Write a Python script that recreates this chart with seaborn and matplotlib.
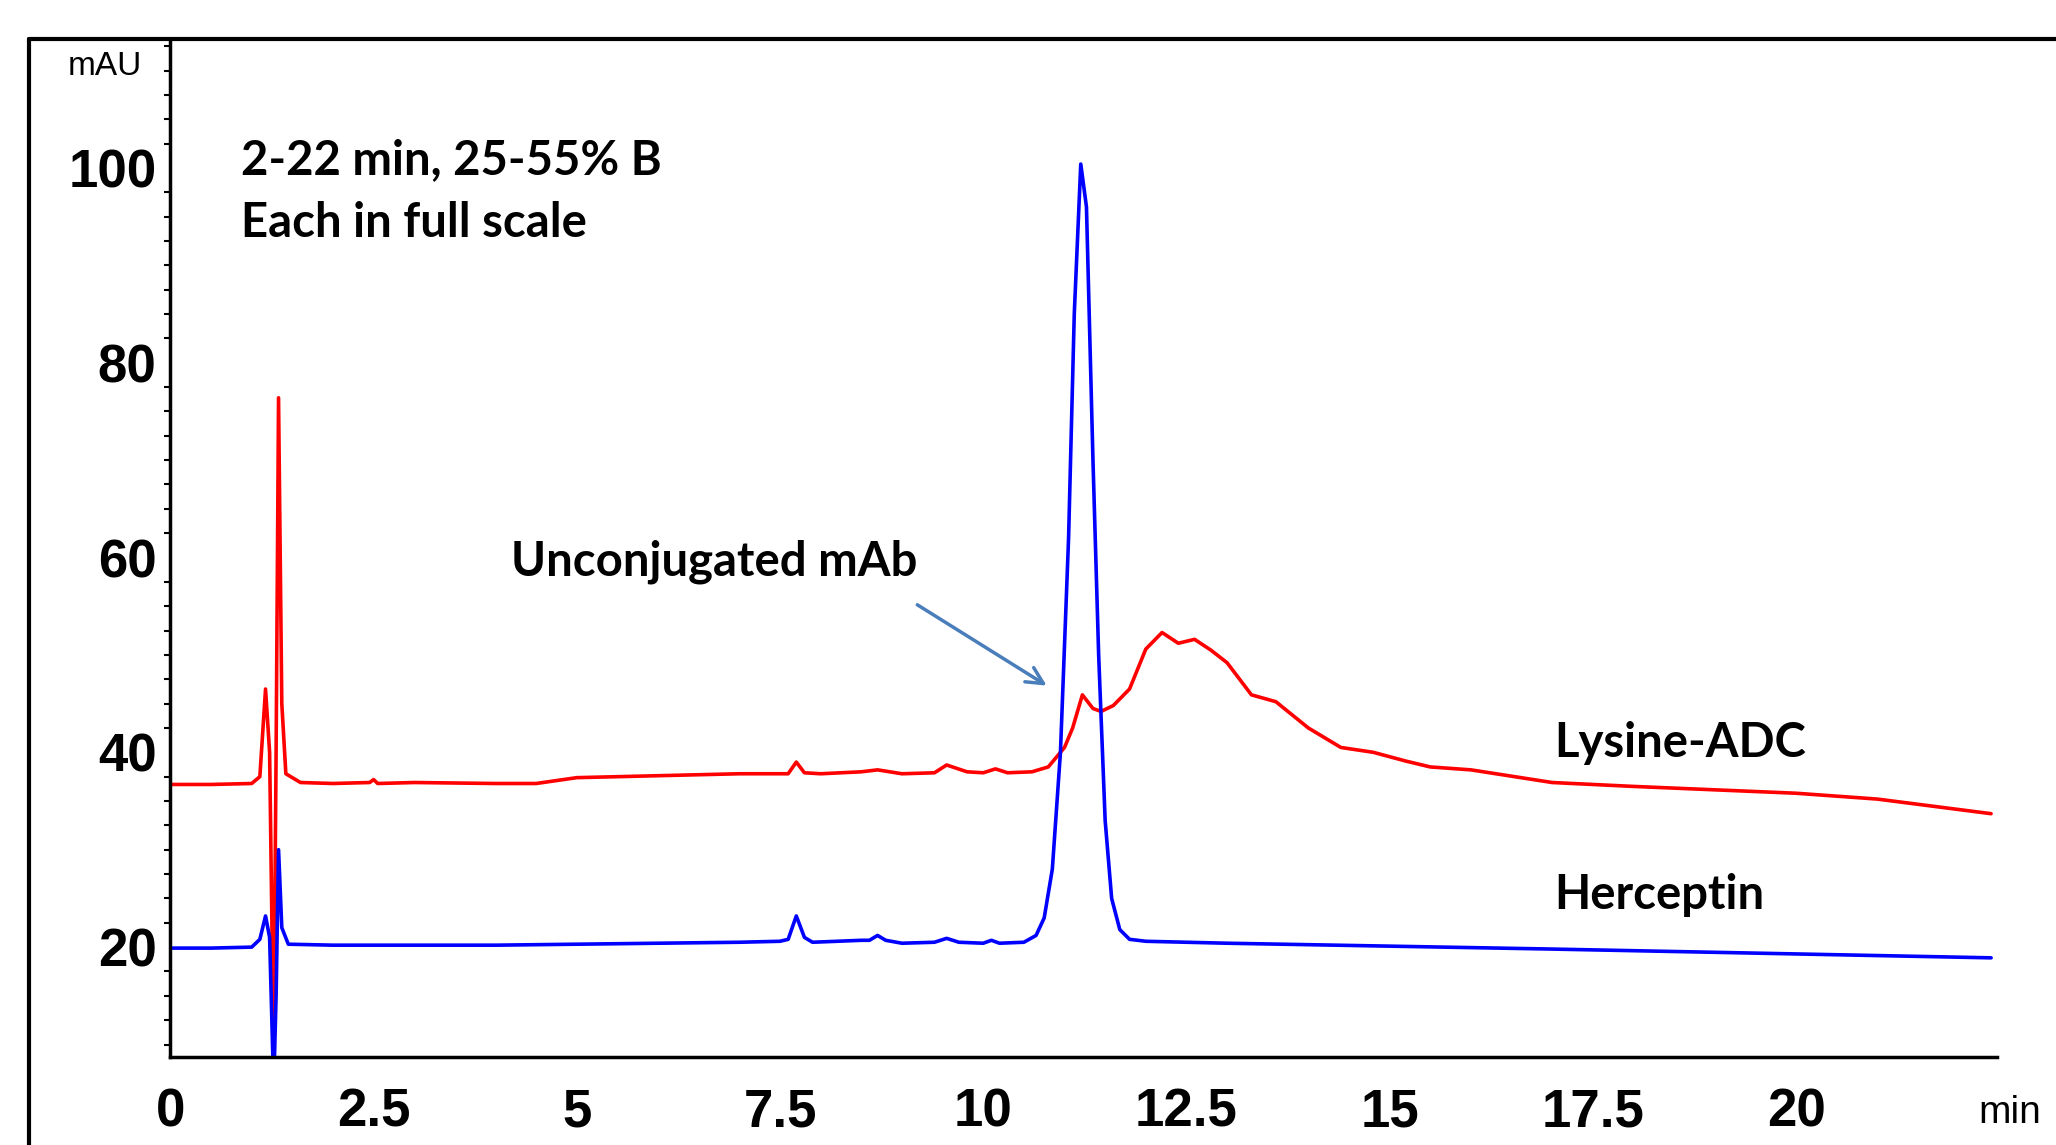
import matplotlib
matplotlib.use("Agg")
import matplotlib.pyplot as plt
import seaborn as sns
import pandas as pd
from matplotlib.lines import Line2D

sns.set_theme(style="white")
plt.rcParams['font.family'] = ['Liberation Sans', 'DejaVu Sans']

red_t = [0, 0.5, 1.0, 1.1, 1.17, 1.22, 1.27, 1.30, 1.33, 1.37, 1.42, 1.6, 2.0, 2.45, 2.5, 2.55, 3.0, 4.0, 4.5, 5.0, 6.0, 7.0, 7.6, 7.7, 7.8, 8.0, 8.5, 8.7, 9.0, 9.4, 9.55, 9.8, 10.0, 10.15, 10.3, 10.6, 10.8, 11.0, 11.1, 11.22, 11.35, 11.45, 11.6, 11.8, 12.0, 12.2, 12.4, 12.6, 12.8, 13.0, 13.3, 13.6, 14.0, 14.4, 14.8, 15.2, 15.5, 16.0, 17.0, 18.0, 20.0, 21.0, 22.4]
red_v = [36.7, 36.7, 36.8, 37.5, 46.5, 40.0, 9.0, 40.0, 76.4, 45.0, 37.8, 36.9, 36.8, 36.9, 37.2, 36.8, 36.9, 36.8, 36.8, 37.4, 37.6, 37.8, 37.8, 39.0, 37.9, 37.8, 38.0, 38.2, 37.8, 37.9, 38.7, 38.0, 37.9, 38.3, 37.9, 38.0, 38.5, 40.5, 42.5, 45.9, 44.5, 44.2, 44.8, 46.5, 50.6, 52.3, 51.2, 51.6, 50.5, 49.2, 45.9, 45.2, 42.5, 40.5, 40.0, 39.1, 38.5, 38.2, 36.9, 36.5, 35.8, 35.2, 33.7]

blue_t = [0, 0.5, 1.0, 1.1, 1.17, 1.22, 1.26, 1.28, 1.30, 1.33, 1.37, 1.45, 2.0, 3.0, 4.0, 5.0, 6.0, 7.0, 7.5, 7.6, 7.7, 7.8, 7.9, 8.2, 8.5, 8.6, 8.7, 8.8, 9.0, 9.4, 9.55, 9.7, 10.0, 10.1, 10.2, 10.5, 10.65, 10.75, 10.85, 10.95, 11.05, 11.12, 11.2, 11.27, 11.35, 11.42, 11.5, 11.58, 11.68, 11.8, 12.0, 13.0, 15.0, 17.0, 20.0, 22.4]
blue_v = [19.9, 19.9, 20.0, 20.8, 23.2, 21.0, 8.7, 8.7, 15.0, 30.0, 22.0, 20.3, 20.2, 20.2, 20.2, 20.3, 20.4, 20.5, 20.6, 20.8, 23.2, 21.0, 20.5, 20.6, 20.7, 20.7, 21.2, 20.7, 20.4, 20.5, 20.9, 20.5, 20.4, 20.7, 20.4, 20.5, 21.2, 23.0, 28.0, 40.0, 62.0, 85.0, 100.4, 96.0, 70.0, 50.0, 33.0, 25.0, 21.8, 20.8, 20.6, 20.4, 20.1, 19.8, 19.3, 18.9]

x_ticks = [0, 2.5, 5, 7.5, 10, 12.5, 15, 17.5, 20]
x_labels = ["0", "2.5", "5", "7.5", "10", "12.5", "15", "17.5", "20"]
y_ticks = [20, 40, 60, 80, 100]

fig = plt.figure(figsize=(20.56, 11.45), dpi=100)
ax = fig.add_axes([0.0829, 0.0767, 0.8883, 0.8889])

red = pd.DataFrame({"t": red_t, "v": red_v})
blue = pd.DataFrame({"t": blue_t, "v": blue_v})
sns.lineplot(data=red, x="t", y="v", color="#ff0000", lw=2.6, estimator=None, sort=False, ax=ax)
sns.lineplot(data=blue, x="t", y="v", color="#0000ff", lw=2.6, estimator=None, sort=False, ax=ax)

ax.set_xlim(0, 22.47)
ax.set_ylim(8.7, 113.2)
ax.set_xlabel("")
ax.set_ylabel("")
for s in ["top", "right"]:
    ax.spines[s].set_visible(False)
for s in ["left", "bottom"]:
    ax.spines[s].set_color("black")
    ax.spines[s].set_linewidth(2.5)

ax.set_xticks(x_ticks)
ax.set_xticklabels(x_labels, fontsize=38, fontweight="bold", color="black")
ax.set_yticks(y_ticks)
ax.set_yticklabels([str(v) for v in y_ticks], fontsize=38, fontweight="bold", color="black")
ax.set_yticks([v for v in [x * 2.5 for x in range(4, 46)] if v not in y_ticks and v < 113], minor=True)
ax.tick_params(axis="both", which="major", direction="out", length=6, width=2, color="black", pad=4)
ax.tick_params(axis="y", which="minor", direction="out", length=4, width=1.5, color="black", left=True)
ax.tick_params(axis="x", which="major", length=0, pad=22)

bold = dict(family=['Lato', 'DejaVu Sans'], fontweight="bold", fontsize=34, color="black")
ax.text(0.87, 100.8, "2-22 min, 25-55% B", va="center", ha="left", **bold)
ax.text(0.87, 94.3, "Each in full scale", va="center", ha="left", **bold)
ax.text(6.69, 59.6, "Unconjugated mAb", va="center", ha="center", **bold)
ax.text(17.03, 41.0, "Lysine-ADC", va="center", ha="left", **bold)
ax.text(17.03, 25.4, "Herceptin", va="center", ha="left", **bold)
ax.annotate("", xy=(10.81, 46.7), xytext=(9.16, 55.3),
            arrowprops=dict(arrowstyle="->", color="#4a7ebb", lw=2.5, mutation_scale=30))

fig.text(0.051, 0.942, "mAU", fontsize=24, ha="center", va="center", color="black")
fig.text(0.962, 0.028, "min", fontsize=28, ha="left", va="center", color="black")
fig.add_artist(Line2D([0.014, 1.0], [0.9656, 0.9656], color="black", lw=3, transform=fig.transFigure))
fig.add_artist(Line2D([0.014, 0.014], [0.0, 0.9656], color="black", lw=3, transform=fig.transFigure))

fig.savefig("out.png", dpi=100)
